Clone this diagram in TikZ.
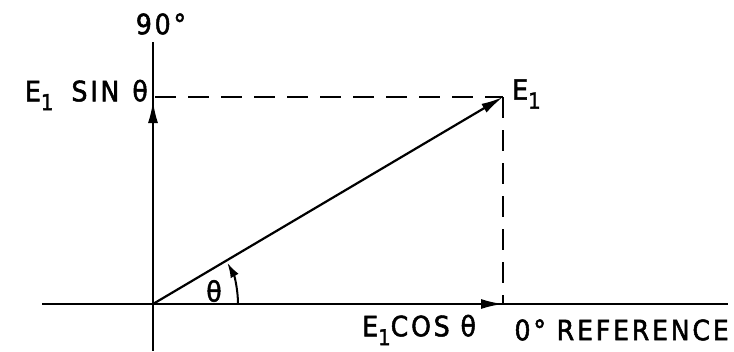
\documentclass[tikz,border=0pt]{standalone}
\usepackage{fontspec}
\setmainfont{DejaVu Sans}[LetterSpace=10,FakeBold=1.8,FakeStretch=0.9]
\usetikzlibrary{arrows.meta}
\newcommand\Eone{E\raisebox{-0.32em}{\fontsize{22}{22}\selectfont 1}}
\begin{document}
\begin{tikzpicture}[x=1pt,y=-1pt,
  ax/.style={line width=2pt},
  vec/.style={line width=2.2pt,-{Latex[length=22pt,width=10pt]}},
  dsh/.style={line width=1.8pt,dash pattern=on 21pt off 12pt},
  lab/.style={font=\fontsize{28}{30}\selectfont, inner sep=0pt}]
\useasboundingbox (0,0) rectangle (734,351);
\coordinate (O) at (153,304);
\coordinate (T) at (153,42);
\coordinate (B) at (153,351);
\coordinate (L) at (42,304);
\coordinate (R) at (728,304);
\coordinate (E) at (503,97);
\coordinate (Ey) at (153,101);
\coordinate (Ed) at (155,97);
\coordinate (Ex) at (503,304);
% axes
\draw[ax] (T) -- (B);
\draw[ax] (L) -- (R);
% dashed projections
\draw[dsh] (Ed) -- (E);
\draw[dsh] (E) -- (Ex);
% vectors
\draw[vec] (O) -- (E);
\draw[vec] (O) -- (Ey);
\draw[vec] (O) -- (Ex);
% angle arc
\draw[line width=2pt,-{Latex[length=15pt,width=9pt]}] ([xshift=85pt]O) arc[start angle=0,end angle=29,radius=85pt];
% labels
\node[lab] (n90) at (161,24) {90°};
\node[lab,anchor=east] (nsin) at (148,95) {\Eone\hspace{18pt}SIN\hspace{13pt}θ};
\node[lab,anchor=west] (ne1) at (512,94) {\Eone};
\node[lab] (th) at (214,291) {θ};
\node[lab,anchor=west] (ncos) at (362,330) {\Eone COS θ};
\node[lab,anchor=east] (nref) at (729,330) {0° REFERENCE};
\end{tikzpicture}
\end{document}
